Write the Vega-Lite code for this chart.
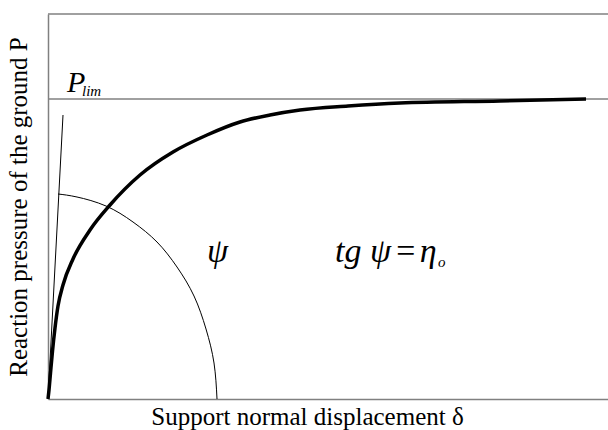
{
  "$schema": "https://vega.github.io/schema/vega-lite/v6.json",
  "width": 560,
  "height": 385,
  "autosize": {"type": "none"},
  "padding": {"left": 48, "top": 14, "right": 0, "bottom": 31},
  "background": "white",
  "config": {"view": {"stroke": null}},
  "datasets": {
    "borders": [{"Y": 385}, {"Y": 300}],
    "tangent": [{"X": 0, "Y": 0}, {"X": 15, "Y": 284}],
    "arc": [
      {"X": 10, "Y": 205}, {"X": 29, "Y": 202}, {"X": 58, "Y": 193}, {"X": 85, "Y": 177},
      {"X": 109, "Y": 157}, {"X": 129, "Y": 132}, {"X": 146, "Y": 103}, {"X": 158, "Y": 70},
      {"X": 166, "Y": 36}, {"X": 169, "Y": 0}
    ],
    "curve": [
      {"X": 0, "Y": 0}, {"X": 1, "Y": 9}, {"X": 2.5, "Y": 26}, {"X": 4.5, "Y": 48},
      {"X": 7, "Y": 71}, {"X": 10, "Y": 93}, {"X": 15, "Y": 114}, {"X": 25, "Y": 140},
      {"X": 42, "Y": 169}, {"X": 62, "Y": 194}, {"X": 92, "Y": 224}, {"X": 125, "Y": 247},
      {"X": 159, "Y": 264}, {"X": 192, "Y": 277}, {"X": 222, "Y": 284}, {"X": 252, "Y": 289},
      {"X": 300, "Y": 293}, {"X": 352, "Y": 296}, {"X": 452, "Y": 298}, {"X": 538, "Y": 300}
    ],
    "pText": [
      {"X": 19, "Y": 307, "label": "P"}
    ],
    "greekText": [
      {"X": 159, "Y": 137, "label": "ψ"},
      {"X": 287, "Y": 137, "label": "tg ψ\u200a=\u200aη"}
    ],
    "subText": [
      {"X": 34, "Y": 303, "label": "lim"},
      {"X": 390, "Y": 132, "label": "o"}
    ]
  },
  "encoding": {
    "x": {
      "field": "X", "type": "quantitative",
      "scale": {"domain": [0, 560], "nice": false, "zero": false},
      "axis": {
        "title": "Support normal displacement δ",
        "titleX": 259, "titleAlign": "center",
        "titleFont": "Times New Roman, Liberation Serif, serif", "titleFontSize": 25, "titleFontWeight": "normal",
        "titleColor": "black", "titlePadding": 5,
        "domainColor": "#808080", "domainWidth": 1.5,
        "ticks": false, "labels": false, "grid": false
      }
    },
    "y": {
      "field": "Y", "type": "quantitative",
      "scale": {"domain": [0, 385], "nice": false, "zero": false},
      "axis": {
        "title": "Reaction pressure of the ground P",
        "titleFont": "Times New Roman, Liberation Serif, serif", "titleFontSize": 25, "titleFontWeight": "normal",
        "titleColor": "black", "titlePadding": 17,
        "domainColor": "#808080", "domainWidth": 1.5,
        "ticks": false, "labels": false, "grid": false
      }
    }
  },
  "layer": [
    {
      "data": {"name": "borders"},
      "mark": {"type": "rule", "color": "#808080", "strokeWidth": 1.5},
      "encoding": {"x": null, "y": {"field": "Y", "type": "quantitative"}}
    },
    {
      "data": {"name": "tangent"},
      "mark": {"type": "line", "color": "black", "strokeWidth": 1}
    },
    {
      "data": {"name": "arc"},
      "mark": {"type": "line", "color": "black", "strokeWidth": 1, "interpolate": "natural"},
      "encoding": {"order": {"field": "X", "type": "quantitative"}}
    },
    {
      "data": {"name": "curve"},
      "mark": {"type": "line", "color": "black", "strokeWidth": 3.5, "interpolate": "monotone"}
    },
    {
      "data": {"name": "pText"},
      "mark": {"type": "text", "font": "Times New Roman, Liberation Serif, serif", "fontStyle": "italic", "fontSize": 30, "align": "left", "baseline": "alphabetic", "color": "black"},
      "encoding": {"text": {"field": "label"}}
    },
    {
      "data": {"name": "greekText"},
      "mark": {"type": "text", "font": "Times New Roman, Liberation Serif, serif", "fontStyle": "italic", "fontSize": 34, "align": "left", "baseline": "alphabetic", "color": "black"},
      "encoding": {"text": {"field": "label"}}
    },
    {
      "data": {"name": "subText"},
      "mark": {"type": "text", "font": "Times New Roman, Liberation Serif, serif", "fontStyle": "italic", "fontSize": 15, "align": "left", "baseline": "alphabetic", "color": "black"},
      "encoding": {"text": {"field": "label"}}
    }
  ]
}
